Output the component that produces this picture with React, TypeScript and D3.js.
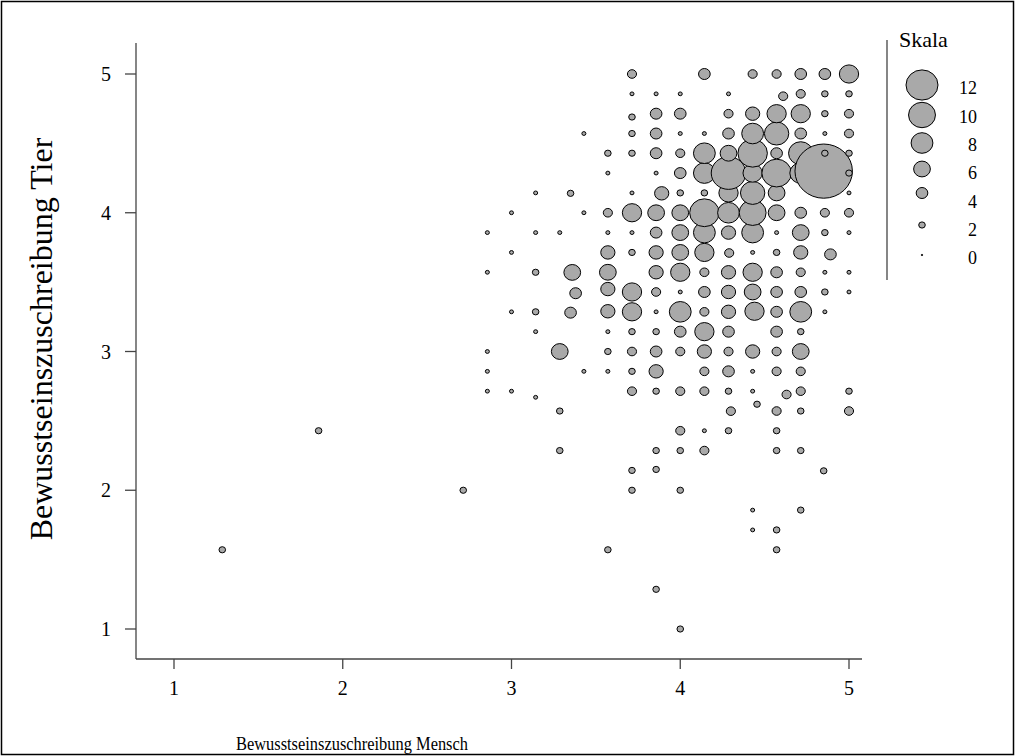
import React from 'react';
import * as d3 from 'd3';

const xTicks = [1, 2, 3, 4, 5];
const yTicks = [1, 2, 3, 4, 5];
const legendValues = [12, 10, 8, 6, 4, 2, 0];
const xTitle = 'Bewusstseinszuschreibung Mensch';
const yTitle = 'Bewusstseinszuschreibung Tier';
const legendTitle = 'Skala';

// [Mensch, Tier, Anzahl]
const bubbles: [number, number, number][] = [
  [1.286, 1.571, 2], [1.857, 2.429, 2], [2.714, 2.0, 2],
  [2.857, 3.857, 1], [2.857, 3.571, 1], [2.857, 3.0, 1], [2.857, 2.857, 1], [2.857, 2.714, 1],
  [3.0, 4.0, 1], [3.0, 3.714, 1], [3.0, 3.286, 1], [3.0, 2.714, 1],
  [3.143, 4.143, 1], [3.143, 3.857, 1], [3.143, 3.571, 2], [3.143, 3.286, 2], [3.143, 3.143, 1], [3.143, 2.67, 1],
  [3.286, 3.857, 1], [3.286, 3.0, 6], [3.286, 2.571, 2], [3.286, 2.286, 2],
  [3.35, 4.14, 2], [3.36, 3.57, 6], [3.38, 3.42, 4], [3.35, 3.28, 4],
  [3.429, 4.571, 1], [3.429, 4.0, 1], [3.429, 2.857, 1],
  [3.571, 4.429, 2], [3.571, 4.286, 1], [3.571, 4.0, 3], [3.571, 3.857, 1], [3.571, 3.714, 5], [3.571, 3.571, 6],
  [3.571, 3.45, 5], [3.571, 3.29, 5], [3.571, 3.143, 1], [3.571, 3.0, 2], [3.571, 2.857, 1], [3.571, 1.571, 2],
  [3.714, 5.0, 3], [3.714, 4.857, 1], [3.714, 4.69, 2], [3.714, 4.571, 2], [3.714, 4.429, 2], [3.714, 4.143, 1],
  [3.714, 4.0, 7], [3.714, 3.857, 1], [3.714, 3.714, 2], [3.714, 3.429, 7], [3.714, 3.286, 7], [3.714, 3.143, 2],
  [3.714, 3.0, 3], [3.714, 2.857, 2], [3.714, 2.714, 3], [3.714, 2.143, 2], [3.714, 2.0, 2],
  [3.857, 4.857, 1], [3.857, 4.714, 4], [3.857, 4.571, 4], [3.857, 4.429, 4], [3.857, 4.286, 1], [3.89, 4.14, 5],
  [3.857, 4.0, 6], [3.857, 3.857, 4], [3.857, 3.714, 5], [3.857, 3.571, 5], [3.857, 3.429, 3], [3.857, 3.286, 1],
  [3.857, 3.143, 2], [3.857, 3.0, 4], [3.857, 2.857, 5], [3.857, 2.714, 2], [3.857, 2.286, 2], [3.857, 2.15, 2],
  [3.857, 1.286, 2],
  [4.0, 4.857, 1], [4.0, 4.714, 4], [4.0, 4.571, 1], [4.0, 4.429, 3], [4.0, 4.286, 4], [4.0, 4.143, 2],
  [4.0, 4.0, 6], [4.0, 3.857, 6], [4.0, 3.714, 6], [4.0, 3.571, 7], [4.0, 3.429, 1], [4.0, 3.286, 8],
  [4.0, 3.143, 4], [4.0, 3.0, 3], [4.0, 2.714, 3], [4.0, 2.429, 3], [4.0, 2.286, 2], [4.0, 2.0, 2], [4.0, 1.0, 2],
  [4.143, 5.0, 4], [4.143, 4.571, 1], [4.143, 4.429, 8], [4.143, 4.286, 8], [4.143, 4.143, 2], [4.143, 4.0, 11],
  [4.143, 3.857, 8], [4.143, 3.714, 7], [4.143, 3.571, 3], [4.143, 3.429, 4], [4.143, 3.286, 3], [4.143, 3.143, 7],
  [4.143, 3.0, 5], [4.143, 2.857, 3], [4.143, 2.714, 3], [4.143, 2.429, 1], [4.143, 2.286, 3],
  [4.286, 4.857, 1], [4.286, 4.714, 3], [4.286, 4.571, 4], [4.286, 4.429, 6], [4.286, 4.286, 13], [4.286, 4.143, 7],
  [4.286, 4.0, 8], [4.286, 3.857, 5], [4.29, 3.71, 3], [4.286, 3.571, 5], [4.286, 3.429, 5], [4.286, 3.286, 5],
  [4.286, 3.143, 4], [4.286, 3.0, 3], [4.286, 2.857, 4], [4.286, 2.714, 2], [4.30, 2.57, 3], [4.286, 2.429, 2],
  [4.429, 5.0, 3], [4.429, 4.714, 5], [4.429, 4.571, 8], [4.429, 4.429, 11], [4.429, 4.286, 7], [4.429, 4.143, 9],
  [4.429, 4.0, 10], [4.429, 3.857, 8], [4.429, 3.714, 1], [4.429, 3.571, 7], [4.429, 3.429, 6], [4.44, 3.29, 7],
  [4.429, 3.0, 5], [4.429, 2.857, 1], [4.429, 2.714, 1], [4.455, 2.62, 2], [4.429, 1.857, 1], [4.429, 1.714, 1],
  [4.571, 5.0, 3], [4.571, 4.714, 7], [4.571, 4.571, 9], [4.571, 4.429, 4], [4.571, 4.286, 11], [4.571, 4.143, 6],
  [4.571, 4.0, 6], [4.571, 3.857, 1], [4.571, 3.714, 2], [4.571, 3.571, 4], [4.571, 3.429, 4], [4.571, 3.286, 4],
  [4.571, 3.143, 4], [4.571, 3.0, 3], [4.571, 2.857, 3], [4.571, 2.571, 3], [4.571, 2.429, 2], [4.571, 2.286, 2],
  [4.571, 1.714, 2], [4.571, 1.571, 2],
  [4.61, 4.84, 3], [4.63, 2.69, 3],
  [4.714, 5.0, 4], [4.714, 4.857, 3], [4.714, 4.714, 7], [4.714, 4.571, 4], [4.714, 4.429, 9], [4.714, 4.286, 8],
  [4.714, 4.0, 4], [4.714, 3.857, 6], [4.714, 3.714, 5], [4.714, 3.571, 3], [4.714, 3.429, 4], [4.714, 3.286, 8],
  [4.714, 3.143, 2], [4.714, 3.0, 6], [4.714, 2.857, 3], [4.714, 2.714, 3], [4.714, 2.571, 2], [4.714, 2.286, 2],
  [4.714, 1.857, 2],
  [4.85, 4.3, 22],
  [4.857, 5.0, 4], [4.857, 4.857, 2], [4.857, 4.714, 2], [4.857, 4.571, 1], [4.857, 4.429, 2], [4.857, 4.0, 3],
  [4.857, 3.857, 2], [4.89, 3.70, 4], [4.857, 3.571, 1], [4.857, 3.429, 2], [4.857, 3.286, 1], [4.85, 2.14, 2],
  [5.0, 5.0, 7], [5.0, 4.857, 2], [5.0, 4.714, 3], [5.0, 4.571, 3], [5.0, 4.429, 2], [5.0, 4.286, 2], [5.0, 4.143, 1],
  [5.0, 4.0, 3], [5.0, 3.857, 1], [5.0, 3.571, 1], [5.0, 3.429, 1], [5.0, 2.714, 2], [5.0, 2.571, 3],
];

const legendCircleY = [85, 115, 143, 169, 193, 225, 255];
const legendLabelY = [88, 117, 145, 173, 202, 230, 258];

const FONT = "'Liberation Serif', 'Times New Roman', serif";

export default function App() {
  const x = d3.scaleLinear().domain([1, 5]).range([174, 849]);
  const y = d3.scaleLinear().domain([1, 5]).range([629, 74]);
  const r = d3.scaleLinear().domain([0, 12]).range([0.7, 15.1]);
  const aspect = 1.06;
  const sorted = [...bubbles].sort((a, b) => a[0] - b[0] || a[1] - b[1]);
  const left = 136;
  const bottom = 659;
  const top = 43;
  const right = 862;

  return (
    <svg width={1016} height={756} style={{ position: 'absolute', left: 0, top: 0 }} fontFamily={FONT}>
      <rect x={0} y={0} width={1016} height={756} fill="#fff" />
      <rect x={1.5} y={1.5} width={1012} height={753} fill="none" stroke="#000" strokeWidth={1.5} />
      {/* axes */}
      <line x1={left} y1={top} x2={left} y2={bottom} stroke="#444" strokeWidth={1.3} />
      <line x1={left} y1={bottom} x2={right} y2={bottom} stroke="#444" strokeWidth={1.3} />
      {yTicks.map((t) => (
        <g key={'y' + t}>
          <line x1={left - 11} x2={left} y1={y(t)} y2={y(t)} stroke="#444" strokeWidth={1.3} />
          <text x={111} y={y(t) + 7} fontSize={20} textAnchor="end" fill="#000">{t}</text>
        </g>
      ))}
      {xTicks.map((t) => (
        <g key={'x' + t}>
          <line x1={x(t)} x2={x(t)} y1={bottom} y2={bottom + 10} stroke="#444" strokeWidth={1.3} />
          <text x={x(t)} y={695} fontSize={20} textAnchor="middle" fill="#000">{t}</text>
        </g>
      ))}
      <text x={236} y={750} fontSize={19} textLength={232} lengthAdjust="spacingAndGlyphs" fill="#000">{xTitle}</text>
      <text transform="translate(52,339) rotate(-90)" fontSize={32} textAnchor="middle" fill="#000">{yTitle}</text>
      {/* bubbles */}
      {sorted.map((b, i) => {
        const rr = r(b[2]);
        return (
          <ellipse key={i} cx={x(b[0])} cy={y(b[1])} rx={rr * aspect} ry={rr}
            fill="#a9a9a9" stroke="#000" strokeWidth={1} />
        );
      })}
      {/* legend */}
      <line x1={887} x2={887} y1={40} y2={280} stroke="#444" strokeWidth={1.3} />
      <text x={899} y={47} fontSize={22} fill="#000">{legendTitle}</text>
      {legendValues.map((v, i) => {
        const rr = r(v);
        return (
          <g key={'l' + v}>
            <ellipse cx={922} cy={legendCircleY[i]} rx={rr * aspect} ry={rr} fill="#a9a9a9" stroke="#000" strokeWidth={1} />
            <text x={977} y={legendLabelY[i] + 6} fontSize={18} textAnchor="end" fill="#000">{v}</text>
          </g>
        );
      })}
    </svg>
  );
}
